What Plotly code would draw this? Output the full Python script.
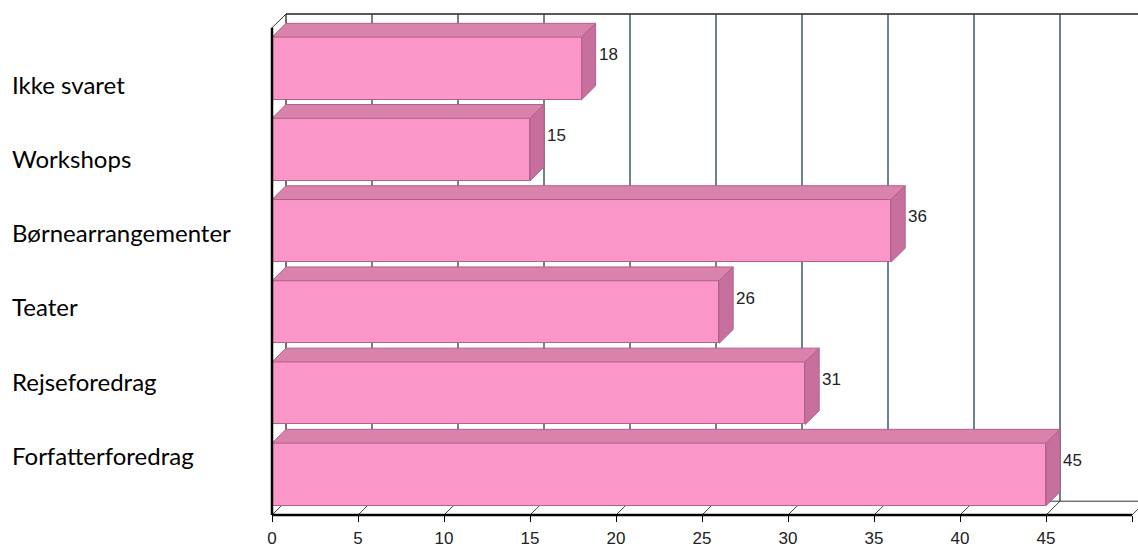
import plotly.graph_objects as go

# ---- data (top to bottom as shown) ----
categories = ["Ikke svaret", "Workshops", "Børnearrangementer", "Teater", "Rejseforedrag", "Forfatterforedrag"]
values = [18, 15, 36, 26, 31, 45]
x_ticks = [0, 5, 10, 15, 20, 25, 30, 35, 40, 45, 50]

# ---- styling / geometry (pixels) ----
W, H = 1138, 548
ML, MR, MT, MB = 272, 0, 14, 26
PW, PH = W - ML - MR, H - MT - MB
X_FRONT_MAX = 50
PX_PER_X = 860 / X_FRONT_MAX          # front plane: 0 -> 272px, 50 -> 1132px
SLOT_PX = 494 / len(categories)        # front plane height 494px
DEPTH = 14                              # 3D depth in px
dx = DEPTH / PX_PER_X
dy = DEPTH / SLOT_PX
x_range = [0, PW / PX_PER_X]
y_range = [-0.5, -0.5 + PH / SLOT_PX]

FRONT = "#FB96C8"
TOP = "#D882AC"
SIDE = "#C8709D"
EDGE = "#B0628C"
GRID = "#1F3F4A"

n = len(categories)
ypos = [n - 1 - i for i in range(n)]
BAR_W = 0.77

fig = go.Figure()
fig.add_trace(go.Bar(
    x=values, y=ypos, orientation="h", width=BAR_W,
    marker=dict(color=FRONT, line=dict(color=EDGE, width=1)),
    hoverinfo="skip", showlegend=False,
))

shapes = []
y_front_top = n - 0.5
y_front_bot = -0.5
# back-wall grid lines
for t in x_ticks:
    shapes.append(dict(type="line", xref="x", yref="y", layer="below",
                       x0=t + dx, x1=t + dx, y0=y_front_bot + dy, y1=y_front_top + dy,
                       line=dict(color=GRID if t > 0 else "#222222", width=1.3)))
    # floor diagonals
    shapes.append(dict(type="line", xref="x", yref="y", layer="below",
                       x0=t, x1=t + dx, y0=y_front_bot, y1=y_front_bot + dy,
                       line=dict(color="#444444", width=1)))
# floor back edge
shapes.append(dict(type="line", xref="x", yref="y", layer="below",
                   x0=dx, x1=x_range[1], y0=y_front_bot + dy, y1=y_front_bot + dy,
                   line=dict(color="#333333", width=1)))
# top back edge
shapes.append(dict(type="line", xref="x", yref="paper", layer="below",
                   x0=dx, x1=x_range[1], y0=1, y1=1,
                   line=dict(color="#222222", width=1.5)))
# left wall top diagonal
shapes.append(dict(type="line", xref="x", yref="y", layer="below",
                   x0=0, x1=dx, y0=y_front_top, y1=y_front_top + dy,
                   line=dict(color="#333333", width=1)))

# 3D faces of bars
for v, yc in zip(values, ypos):
    yt = yc + BAR_W / 2
    yb = yc - BAR_W / 2
    top_path = f"M 0 {yt} L {v} {yt} L {v + dx} {yt + dy} L {dx} {yt + dy} Z"
    side_path = f"M {v} {yb} L {v} {yt} L {v + dx} {yt + dy} L {v + dx} {yb + dy} Z"
    shapes.append(dict(type="path", xref="x", yref="y", layer="above", path=top_path,
                       fillcolor=TOP, line=dict(color=EDGE, width=1)))
    shapes.append(dict(type="path", xref="x", yref="y", layer="above", path=side_path,
                       fillcolor=SIDE, line=dict(color=EDGE, width=1)))

# front axes lines
shapes.append(dict(type="line", xref="paper", yref="y", layer="above",
                   x0=0, x1=0, y0=y_front_bot, y1=y_front_top,
                   line=dict(color="black", width=2.5)))
shapes.append(dict(type="line", xref="x", yref="paper", layer="above",
                   x0=0, x1=X_FRONT_MAX, y0=0, y1=0,
                   line=dict(color="black", width=2.5)))

annotations = []
for v, yc in zip(values, ypos):
    annotations.append(dict(x=v, y=yc, xref="x", yref="y", text=str(v), showarrow=False,
                            xanchor="left", yanchor="middle", xshift=DEPTH + 1, yshift=14,
                            font=dict(family="Liberation Sans", size=17, color="#222222")))
for i, c in enumerate(categories):
    py = 85 + 75.3 * i
    annotations.append(dict(x=(10 - ML) / PW, y=(H - MB - py) / PH, xref="paper", yref="paper",
                            text=c, showarrow=False, xanchor="left", yanchor="middle",
                            font=dict(family="Lato", size=24, color="black")))

fig.update_layout(
    width=W, height=H,
    margin=dict(l=ML, r=MR, t=MT, b=MB, pad=0),
    paper_bgcolor="white", plot_bgcolor="white",
    shapes=shapes, annotations=annotations,
    xaxis=dict(range=x_range, tickvals=x_ticks, ticks="outside", ticklen=6,
               tickcolor="black", tickwidth=1, showgrid=False, zeroline=False,
               showline=False, ticklabelstandoff=2,
               tickfont=dict(family="Liberation Sans", size=17, color="#222222")),
    yaxis=dict(range=y_range, showticklabels=False, showgrid=False, zeroline=False,
               showline=False, ticks=""),
    bargap=0,
)

post = (
    "document.body.style.margin='0px';document.body.style.overflow='hidden';"
)
fig.write_html("out.html", config={"displayModeBar": False}, post_script=post)
